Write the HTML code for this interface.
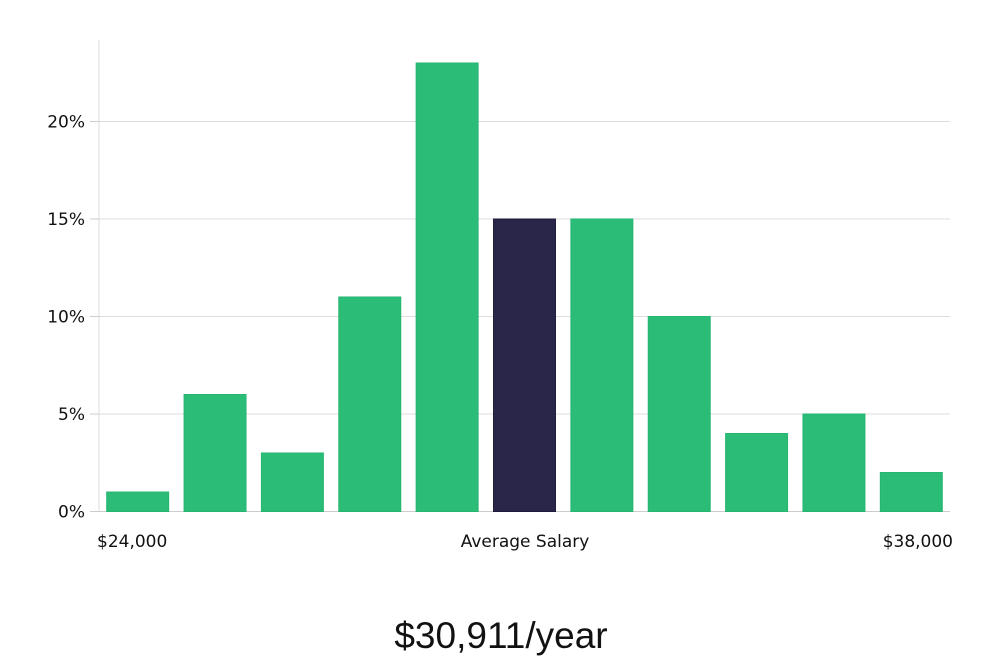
<!DOCTYPE html>
<html><head><meta charset="utf-8">
<style>
html,body{margin:0;padding:0;background:#fff;}
body{width:1000px;height:660px;overflow:hidden;}
svg text{font-family:"DejaVu Sans","Liberation Sans",sans-serif;fill:#111;}
</style></head>
<body>
<svg id="chart" width="1000" height="660" xmlns="http://www.w3.org/2000/svg"></svg>
<script>
const categories = ["b1","b2","b3","b4","b5","avg","b7","b8","b9","b10","b11"];
const values = [1,6,3,11,23,15,15,10,4,5,2];
const highlightIndex = 5;
const yTicks = [0,5,10,15,20];
const yTickLabels = ["0%","5%","10%","15%","20%"];

const NS="http://www.w3.org/2000/svg";
const svg=document.getElementById('chart');
const x0=99,x1=950,yBase=511.5,pxPer=19.5;
const band=(x1-x0)/categories.length;
const pad=7.7;
function y(v){return yBase-v*pxPer;}
function xb(i){return x0+i*band;}
function mk(tag,attrs){const e=document.createElementNS(NS,tag);for(const k in attrs)e.setAttribute(k,attrs[k]);svg.appendChild(e);return e;}

// axis line
const ax=mk('line',{x1:x0,y1:40,x2:x0,y2:yBase,stroke:'#ddd','stroke-width':1});



yTicks.forEach((t,i)=>{
  const g=mk('line',{x1:(t===0?90:x0),y1:y(t),x2:x1,y2:y(t),stroke:(t===0?'#ccc':'#ddd'),'stroke-width':1});
  
  
  const tk=mk('line',{x1:90,y1:y(t),x2:x0,y2:y(t),stroke:'#ccc','stroke-width':1});
  
  
  const l=mk('text',{x:85,y:y(t)+6,'text-anchor':'end','font-size':'17'});
  l.textContent=yTickLabels[i];
  
  
});

values.forEach((v,i)=>{
  const r=mk('rect',{x:xb(i)+pad,y:y(v),width:band-2*pad,height:yBase-y(v),
    fill:i===highlightIndex?'#29264a':'#2bbd77',stroke:i===highlightIndex?'#1c1a38':'#25b56f','stroke-width':1});
  
  
});

function txt(s,x,yy,anchor,size,name){
  const t=mk('text',{x:x,y:yy,'text-anchor':anchor,'font-size':size});
  t.textContent=s;
  
  
  return t;
}
txt("$24,000",97,547,'start','17','x-label-min');
txt("Average Salary",525,547,'middle','17','x-label-average');
txt("$38,000",953,547,'end','17','x-label-max');
const h=txt("$30,911/year",501,648,'middle','37','average-salary-value');
h.setAttribute('style','font-family:"Liberation Sans",sans-serif;font-weight:300;');
</script>
</body></html>
